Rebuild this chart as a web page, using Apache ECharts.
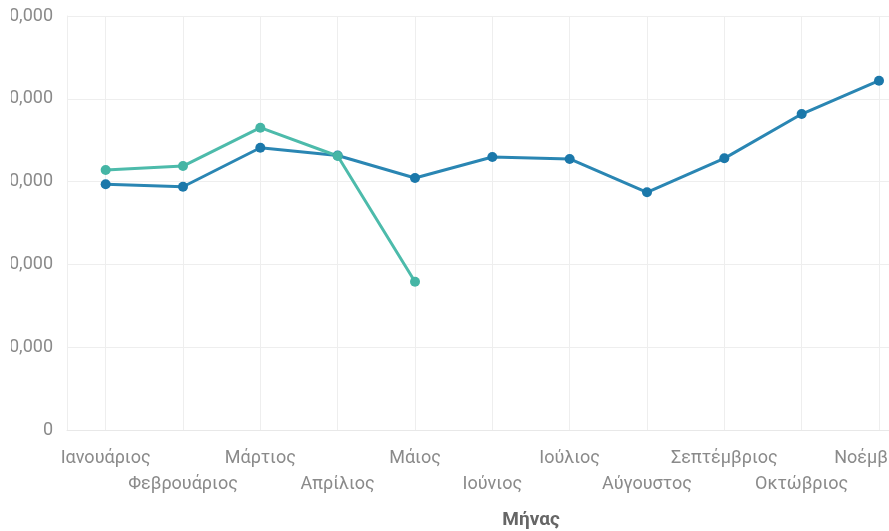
<!DOCTYPE html>
<html>
<head>
<meta charset="utf-8">
<script src="https://cdn.jsdelivr.net/npm/echarts@6/dist/echarts.min.js"></script>
<style>
html,body{margin:0;padding:0;width:889px;height:531px;overflow:hidden;background:#fff;}
#chart{position:absolute;left:11px;top:0;width:1000px;height:531px;}
</style>
</head>
<body>
<div id="chart"></div>
<script>
const months = ['Ιανουάριος','Φεβρουάριος','Μάρτιος','Απρίλιος','Μάιος','Ιούνιος','Ιούλιος','Αύγουστος','Σεπτέμβριος','Οκτώβριος','Νοέμβριος','Δεκέμβριος'];
const seriesA = [29670, 29380, 34090, 33150, 30430, 32970, 32730, 28710, 32810, 38160, 42190, null];
const seriesB = [31400, 31880, 36510, 33090, 17910, null, null, null, null, null, null, null];
const yTicks = {min: 0, max: 50000, interval: 10000};
const xName = 'Μήνας';

const chart = echarts.init(document.getElementById('chart'));
chart.setOption({
  animation: false,
  grid: {left: 56, right: 16, top: 16, bottom: 101, containLabel: false, outerBoundsMode: 'none'},
  xAxis: {
    type: 'category',
    data: months,
    boundaryGap: true,
    name: xName,
    nameLocation: 'middle',
    nameGap: 81,
    nameTextStyle: {color: '#666', fontWeight: 'bold', fontSize: 19, fontFamily: 'Roboto'},
    axisLine: {show: true, lineStyle: {color: '#e8e8e8'}},
    axisTick: {show: false},
    splitLine: {show: true, alignWithLabel: true, lineStyle: {color: '#eeeeee'}},
    axisLabel: {
      interval: 0, margin: 15, color: '#8a8a8a', fontSize: 18, fontFamily: 'Roboto', lineHeight: 26,
      formatter: function (v, i) { return i % 2 ? '\n' + v : v; }
    }
  },
  yAxis: {
    type: 'value',
    min: yTicks.min, max: yTicks.max, interval: yTicks.interval,
    axisLine: {show: true, lineStyle: {color: '#eeeeee'}},
    axisTick: {show: false},
    splitLine: {lineStyle: {color: '#eeeeee'}},
    axisLabel: {margin: 14, color: '#8a8a8a', fontSize: 18, fontFamily: 'Roboto',
      formatter: function (v) { return echarts.format.addCommas(v); }}
  },
  series: [
    {type: 'line', data: seriesA, symbol: 'circle', symbolSize: 10,
     lineStyle: {color: '#2a86b3', width: 3}, itemStyle: {color: '#1b78aa'}},
    {type: 'line', data: seriesB, symbol: 'circle', symbolSize: 10,
     lineStyle: {color: '#4dbbab', width: 3}, itemStyle: {color: '#45b5a5'}}
  ]
});
</script>
</body>
</html>
